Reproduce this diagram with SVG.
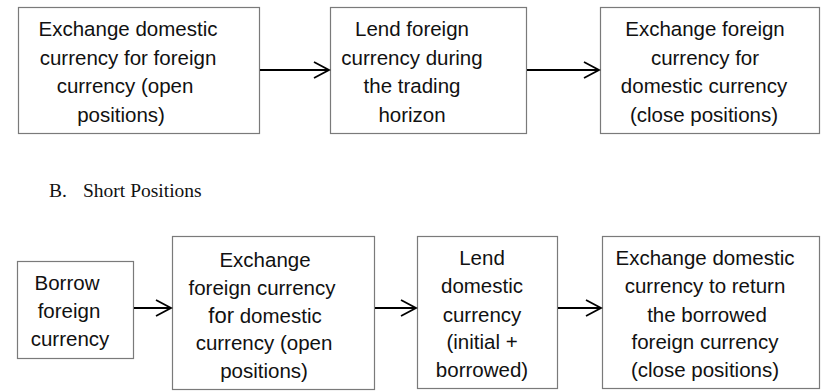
<svg xmlns="http://www.w3.org/2000/svg" width="822" height="391" viewBox="0 0 822 391">
<style>
.box{fill:#fff;stroke:#7a7a7a;stroke-width:1.2}
.t{font-family:"Liberation Sans",Arial,sans-serif;font-size:20.5px;fill:#111;text-anchor:middle}
.h{font-family:"Liberation Serif","Times New Roman",serif;font-size:19.5px;fill:#111}
.c{stroke:#000;stroke-width:2;fill:none}
.ah{stroke:#000;stroke-width:1.8;fill:none;stroke-linejoin:miter}
</style>
<rect width="822" height="391" fill="#fff"/>
<g id="a1"><rect class="box" x="18.5" y="7.5" width="241" height="126"/>
<text class="t"><tspan x="128" y="36">Exchange domestic</tspan><tspan x="128" y="64.5">currency for foreign</tspan><tspan x="125" y="93">currency (open</tspan><tspan x="121" y="121.5">positions)</tspan></text></g>
<g id="a2"><rect class="box" x="330.5" y="7.5" width="196" height="126"/>
<text class="t"><tspan x="412" y="36">Lend foreign</tspan><tspan x="412" y="64.5">currency during</tspan><tspan x="412" y="93">the trading</tspan><tspan x="412" y="121.5">horizon</tspan></text></g>
<g id="a3"><rect class="box" x="600.5" y="7.5" width="219" height="126"/>
<text class="t"><tspan x="705" y="36">Exchange foreign</tspan><tspan x="705" y="64.5">currency for</tspan><tspan x="704" y="93">domestic currency</tspan><tspan x="704" y="121.5">(close positions)</tspan></text></g>
<text class="h" x="49" y="197">B.<tspan x="83">Short Positions</tspan></text>
<g id="b1"><rect class="box" x="17.5" y="261.5" width="116" height="97"/>
<text class="t"><tspan x="67" y="290">Borrow</tspan><tspan x="69" y="318">foreign</tspan><tspan x="70" y="345.5">currency</tspan></text></g>
<g id="b2"><rect class="box" x="172.5" y="236.5" width="202" height="153"/>
<text class="t"><tspan x="265" y="266.5">Exchange</tspan><tspan x="262" y="294.5">foreign currency</tspan><tspan x="265" y="322.5"><tspan font-size="22">for</tspan> domestic</tspan><tspan x="264" y="350">currency (open</tspan><tspan x="264" y="378">positions)</tspan></text></g>
<g id="b3"><rect class="box" x="417.5" y="236.5" width="140" height="152"/>
<text class="t"><tspan x="482" y="265">Lend</tspan><tspan x="482" y="293">domestic</tspan><tspan x="482" y="321.5">currency</tspan><tspan x="482" y="348.5">(initial +</tspan><tspan x="482" y="377">borrowed)</tspan></text></g>
<g id="b4"><rect class="box" x="602.5" y="236.5" width="217" height="152"/>
<text class="t"><tspan x="705" y="265">Exchange domestic</tspan><tspan x="705" y="293">currency to return</tspan><tspan x="707" y="321.5">the borrowed</tspan><tspan x="705" y="348.5">foreign currency</tspan><tspan x="705" y="377">(close positions)</tspan></text></g>
<g id="connectors">
<path class="c" d="M260 70H329"/><path class="ah" d="M314 62L329 70L314 78"/>
<path class="c" d="M527 70H599"/><path class="ah" d="M584 62L599 70L584 78"/>
<path class="c" d="M134 308H171"/><path class="ah" d="M156 300L171 308L156 316"/>
<path class="c" d="M375 308H416"/><path class="ah" d="M401 300L416 308L401 316"/>
<path class="c" d="M558 308H601"/><path class="ah" d="M586 300L601 308L586 316"/>
</g>
</svg>
